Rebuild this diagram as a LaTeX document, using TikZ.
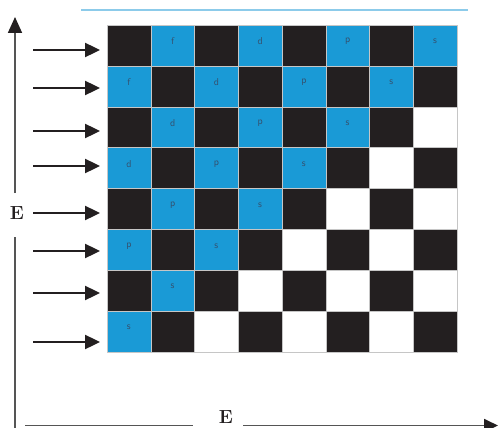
\documentclass[tikz,border=0pt]{standalone}
\usetikzlibrary{arrows.meta}
\definecolor{cblue}{HTML}{1A9AD6}
\definecolor{cblack}{HTML}{231F20}
\definecolor{lbl}{HTML}{35506E}
\definecolor{axisgray}{HTML}{555555}
\definecolor{topline}{HTML}{8CCBEA}
\begin{document}
\begin{tikzpicture}[x=1pt,y=-1pt,
  cell/.style={minimum width=43.75pt, minimum height=40.875pt, inner sep=0pt, outer sep=0pt,
               draw=gray!45, line width=0.3pt, anchor=north west},
  lab/.style={text=lbl, font=\sffamily\fontsize{10}{10}\selectfont, inner sep=0pt},
  rowarrow/.style={draw=cblack, line width=2.4pt, -{Triangle[length=15pt,width=14pt]}},
  axis/.style={draw=axisgray, line width=1.8pt},
  axislab/.style={font=\bfseries\fontsize{19}{19}\selectfont, text=cblack, inner sep=0pt}]
\useasboundingbox (0,0) rectangle (498,428);
% top thin line
\coordinate (tl1) at (81,10);
\coordinate (tl2) at (468,10);
\draw[topline, line width=1.2pt] (tl1) -- (tl2);
% grid
\foreach \r in {0,...,7}{
  \foreach \c in {0,...,7}{
    \pgfmathsetmacro{\xx}{107+43.75*\c}
    \pgfmathsetmacro{\yy}{25+40.875*\r}
    \pgfmathtruncatemacro{\s}{\r+\c}
    \ifodd\s
      \pgfmathtruncatemacro{\k}{(\s-1)/2}
      \ifnum\k<4
        \node[cell, fill=cblue] (c\r\c) at (\xx,\yy) {};
        \node[lab] (l\r\c) at ([yshift=4pt]c\r\c.center) {\ifcase\k f\or d\or p\or s\fi};
      \else
        \node[cell, fill=white] (c\r\c) at (\xx,\yy) {};
      \fi
    \else
      \node[cell, fill=cblack] (c\r\c) at (\xx,\yy) {};
    \fi
  }
}
% row arrows
\foreach \i/\y in {0/50,1/88,2/131,3/166,4/213,5/251,6/293,7/342}{
  \coordinate (as\i) at (33,\y);
  \coordinate (ae\i) at (100,\y);
  \draw[rowarrow] (as\i) -- (ae\i);
}
% vertical axis
\coordinate (vb) at (15,428);
\coordinate (vm1) at (15,237);
\coordinate (vm2) at (15,193);
\coordinate (vt) at (15,17);
\draw[axis] (vb) -- (vm1);
\draw[axis, -{Triangle[length=16pt,width=14pt, color=cblack]}] (vm2) -- (vt);
\node[axislab] (Ev) at (17,213) {E};
% horizontal axis
\coordinate (hl) at (25,425.5);
\coordinate (hm1) at (193,425.5);
\coordinate (hm2) at (243,425.5);
\coordinate (hr) at (498,425.5);
\draw[axis] (hl) -- (hm1);
\draw[axis, -{Triangle[length=14pt,width=13pt, color=cblack]}] (hm2) -- (hr);
\node[axislab] (Eh) at (226,417) {E};
\end{tikzpicture}
\end{document}
